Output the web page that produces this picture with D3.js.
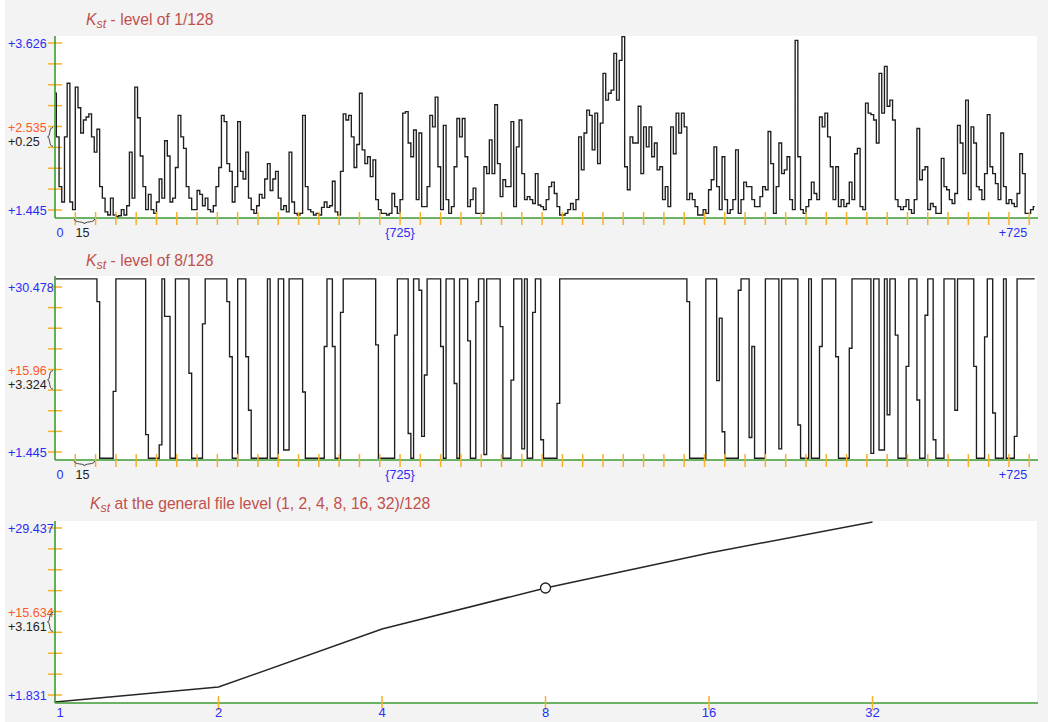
<!DOCTYPE html>
<html>
<head>
<meta charset="utf-8">
<script src="https://cdn.jsdelivr.net/npm/d3@7"></script>
<style>
  html, body { margin: 0; padding: 0; background: #f3f3f3; }
  svg { display: block; font-family: "Liberation Sans", Arial, sans-serif; }
</style>
</head>
<body>
<svg id="chart" width="1048" height="722"></svg>
<script>
// Kst at level 1/128, one value every 2 positions (0..724)
const kst1Values = [
  2.97,2.4,1.75,1.55,2.40,3.10,1.55,1.45,3.05,2.78,2.45,2.62,2.66,2.70,2.40,2.2,2.5,1.75,1.6,1.42,
  1.38,1.60,1.38,1.36,1.37,1.45,1.38,1.5,2.2,1.6,3.05,2.65,2.15,1.75,1.45,1.65,1.45,1.40,1.55,1.85,
  1.6,2.35,2.15,1.55,1.6,2.0,2.68,2.4,2.25,1.75,1.6,1.45,1.45,1.7,1.65,1.5,1.6,1.45,1.42,1.5,
  1.75,2.0,2.68,2.6,2.05,1.95,1.55,1.75,2.6,1.95,1.85,2.2,1.6,1.45,1.4,1.5,1.65,1.6,1.85,2.05,
  1.7,1.85,1.95,1.6,1.45,1.5,1.42,2.2,1.55,1.4,1.38,1.4,2.68,1.75,1.45,1.42,1.38,1.4,1.38,1.48,
  1.55,1.48,1.5,1.82,1.42,1.38,1.95,2.7,2.62,2.68,2.4,2.0,2.3,2.97,2.23,2.05,2.14,1.88,2.10,1.58,
  1.45,1.40,1.40,1.38,1.40,1.66,1.49,1.40,1.58,2.71,2.73,2.32,2.14,2.49,1.58,2.45,1.49,1.49,1.75,2.68,
  2.53,2.92,2.01,1.45,2.55,1.58,1.40,1.49,2.01,2.64,2.40,2.64,2.14,1.49,1.58,1.73,1.40,1.40,1.40,2.01,
  1.92,2.36,1.92,2.82,2.05,1.62,1.84,1.75,1.75,2.60,1.49,2.27,2.62,1.92,1.58,1.62,1.58,1.53,1.92,1.51,
  1.49,1.45,1.58,1.75,1.81,1.66,1.49,1.38,1.38,1.40,1.45,1.53,1.45,1.58,2.40,1.97,2.45,2.75,2.68,2.23,
  2.71,2.05,2.58,3.23,2.88,2.97,3.01,3.49,2.88,3.40,3.71,2.01,1.71,2.40,2.32,2.32,2.80,1.92,2.53,2.27,
  2.53,2.14,2.32,1.97,2.01,1.58,1.75,1.49,2.53,2.18,2.71,2.45,2.71,2.53,1.58,1.66,1.58,1.49,1.38,1.38,
  1.45,1.40,1.71,1.84,2.27,1.75,1.45,2.14,1.58,1.40,1.45,1.58,2.23,1.40,1.58,1.81,1.75,1.75,1.58,1.49,
  1.49,1.62,1.75,1.71,2.47,2.05,1.40,1.75,2.32,1.92,1.97,2.14,1.58,1.45,3.66,2.14,1.45,1.40,1.49,1.58,
  1.81,1.66,1.58,2.66,2.53,2.71,2.40,2.01,1.58,2.01,1.49,1.58,1.49,1.53,1.81,1.58,2.18,2.25,1.49,1.45,
  2.84,2.71,2.69,2.62,2.32,3.23,2.71,3.32,2.80,2.88,2.62,1.58,1.49,1.45,1.49,1.58,1.45,1.40,1.58,2.51,
  1.84,1.97,2.01,1.45,1.53,1.49,1.40,1.40,2.12,1.75,1.71,1.58,1.53,1.66,2.55,2.32,1.92,2.88,1.58,2.53,
  2.32,1.75,1.71,1.58,1.92,2.69,2.01,1.92,1.79,1.58,2.45,1.75,1.53,1.58,1.53,1.49,1.66,2.18,1.92,1.40,
  1.40,1.45,1.49
];

// Kst at level 8/128, one value every 2 positions (0..724)
const kst8Values = [
  31.9,31.9,31.9,31.9,31.9,31.9,31.9,31.9,31.9,31.9,31.9,31.9,31.9,31.9,31.9,31.9,27.9,0.35,0.35,0.35,
  0.35,0.35,12.1,31.9,31.9,31.9,31.9,31.9,31.9,31.9,31.9,31.9,31.9,31.9,4.5,0.35,0.35,0.35,0.35,2.7,
  31.9,25.3,25.3,0.35,0.35,31.9,31.9,31.9,31.9,31.9,15.3,0.35,0.35,0.35,0.35,24,31.9,31.9,31.9,31.9,
  31.9,31.9,31.9,31.9,27.9,18.2,0.35,0.35,31.9,31.9,31.9,18.2,8.8,0.35,0.35,0.35,0.35,0.35,0.35,31.9,
  0.35,0.35,0.35,31.9,31.9,1.8,1.8,31.9,31.9,31.9,31.9,31.9,12,0.35,0.35,0.35,0.35,0.35,0.35,0.35,
  20,31.9,31.9,20,0.35,0.35,26,31.9,31.9,31.9,31.9,31.9,31.9,31.9,31.9,31.9,31.9,31.9,31.9,20.3,
  0.35,0.35,0.35,0.35,0.35,0.35,22,31.9,31.9,31.9,31.9,4.7,0.35,31.9,31.9,29.9,4.2,15,31.9,31.9,
  31.9,31.9,31.9,20,0.35,31.9,31.9,31.9,13.5,0.35,31.9,31.9,31.9,21,0.35,0.35,27.9,31.9,31.9,1.0,
  31.9,31.9,31.9,31.9,31.9,23.5,0.35,0.35,0.35,14.1,31.9,31.9,31.9,2,31.9,0.35,0.35,26,31.9,31.9,
  3.6,0.35,0.35,0.35,0.35,0.35,10,31.9,31.9,31.9,31.9,31.9,31.9,31.9,31.9,31.9,31.9,31.9,31.9,31.9,
  31.9,31.9,31.9,31.9,31.9,31.9,31.9,31.9,31.9,31.9,31.9,31.9,31.9,31.9,31.9,31.9,31.9,31.9,31.9,31.9,
  31.9,31.9,31.9,31.9,31.9,31.9,31.9,31.9,31.9,31.9,31.9,31.9,31.9,31.9,27.9,0.35,0.35,0.35,0.35,0.35,
  0.35,31.9,31.9,31.9,31.9,14,25,5,0.35,0.35,0.35,0.35,0.35,29.9,31.9,31.9,31.9,4,20,0.35,
  0.35,0.35,0.35,31.9,31.9,31.9,31.9,31.9,2.0,31.9,31.9,31.9,31.9,31.9,31.9,6.2,0.35,0.35,0.35,31.9,
  0.35,0.35,0.35,20,31.9,31.9,31.9,31.9,31.9,18.2,0.35,0.35,0.35,0.35,19.7,31.9,31.9,31.9,31.9,31.9,
  31.9,31.9,1.2,31.9,31.9,1.8,1.8,31.9,8,31.9,31.9,22,0.35,0.35,0.35,16.5,31.9,31.9,31.9,10.6,
  0.35,0.35,25.5,31.9,31.9,3.6,0.35,0.35,0.35,31.9,31.9,31.9,31.9,8.8,31.9,31.9,31.9,31.9,31.9,31.9,
  16.5,0.35,0.35,0.35,21.7,31.9,31.9,8.3,0.35,0.35,0.35,31.9,0.35,0.35,0.35,4.2,31.9,31.9,31.9,31.9,
  31.9,31.9,31.9
];

const sampleStep = 2;
const positionCount = 725;

// Kst at the general file level
const levels = [1, 2, 4, 8, 16, 32];
const levelValues = [0.67, 3.15, 12.74, 19.52, 25.3, 30.43];
const markedLevel = 8;

// axis ranges and their labels: [max, mid, step, min]
const kst1Range = [1.445, 3.626];
const kst1YLabels = ["+3.626", "+2.535", "+0.25", "+1.445"];
const kst8Range = [1.445, 30.478];
const kst8YLabels = ["+30.478", "+15.96", "+3.324", "+1.445"];
const levelRange = [1.831, 29.437];
const levelYLabels = ["+29.437", "+15.634", "+3.161", "+1.831"];
const positionLabels = ["0", "15", "{725}", "+725"];
const positionTickStep = 15;

const titles = [
  " - level of 1/128",
  " - level of 8/128",
  " at the general file level (1, 2, 4, 8, 16, 32)/128"
];

const BLUE = "#2b2bf5", ORANGE = "#ff5a28", TICK = "#f7b02a", GREEN = "#3c9c32", TITLE = "#c0504d";
const LEFT = 55, RIGHT = 1037;

const svg = d3.select("#chart");
svg.append("rect").attr("width", 1048).attr("height", 722).attr("fill", "#f3f3f3");
svg.append("rect").attr("width", 5).attr("height", 722).attr("fill", "#fff");

function title(y, x, rest) {
  const t = svg.append("text").attr("x", x).attr("y", y).attr("fill", TITLE).attr("font-size", 15.7);
  t.append("tspan").attr("font-style", "italic").text("K");
  t.append("tspan").attr("font-style", "italic").attr("font-size", 12.5).attr("dy", 3).text("st");
  t.append("tspan").attr("dy", -3).text(rest);
}

function frame(p) {
  const g = svg.append("g");
  g.append("rect").attr("x", LEFT).attr("y", p.top).attr("width", RIGHT - LEFT)
    .attr("height", p.bottom - p.top).attr("fill", "#fff");
  const [lo, hi] = p.range;
  const ticks = d3.range(9).map(k => lo + k * (hi - lo) / 8);
  g.selectAll(".yt").data(ticks).join("line")
    .attr("x1", LEFT - 7).attr("x2", LEFT + 7)
    .attr("y1", d => p.y(d)).attr("y2", d => p.y(d))
    .attr("stroke", TICK).attr("stroke-width", 1.5);
  const mid = ticks[4];
  const lab = p.labels;
  const lt = [
    { t: lab[0], y: p.y(hi) + 5, c: BLUE },
    { t: lab[1], y: p.y(mid) + 5, c: ORANGE },
    { t: lab[2], y: p.y(mid) + 19, c: "#222" },
    { t: lab[3], y: p.y(lo) + 5, c: BLUE }
  ];
  g.selectAll(".yl").data(lt).join("text")
    .attr("x", 8).attr("y", d => d.y).attr("fill", d => d.c)
    .attr("font-size", 12.6).text(d => d.t);
  const a = p.y(mid) + 1, b = p.y(ticks[3]) - 1, m = (a + b) / 2;
  g.append("path")
    .attr("d", `M53,${a} C48.5,${a} 50.5,${m} 47.5,${m} C50.5,${m} 48.5,${b} 53,${b}`)
    .attr("fill", "none").attr("stroke", "#444").attr("stroke-width", 1);
  return g;
}

function greenAxes(g, p) {
  g.append("line").attr("x1", LEFT).attr("x2", LEFT).attr("y1", p.top).attr("y2", p.bottom)
    .attr("stroke", GREEN).attr("stroke-width", 1.6);
  g.append("line").attr("x1", LEFT).attr("x2", RIGHT + 1).attr("y1", p.bottom).attr("y2", p.bottom)
    .attr("stroke", GREEN).attr("stroke-width", 1.6);
}

const xPos = d3.scaleLinear().domain([0, positionCount]).range([LEFT, RIGHT - 1]);

function positionPanel(p, values) {
  const g = frame(p);
  const line = d3.line()
    .x((d, i) => xPos(i * sampleStep))
    .y(d => p.y(d))
    .curve(d3.curveStep);
  g.append("path").datum(values).attr("d", line)
    .attr("fill", "none").attr("stroke", "#1e1e1e").attr("stroke-width", 1.35);
  greenAxes(g, p);
  const xt = d3.range(positionTickStep, positionCount, positionTickStep);
  g.selectAll(".xt").data(xt).join("line")
    .attr("x1", d => xPos(d)).attr("x2", d => xPos(d))
    .attr("y1", p.bottom - 6).attr("y2", p.bottom + 7)
    .attr("stroke", TICK).attr("stroke-width", 1.5);
  const by = p.bottom;
  const x0 = xPos(positionTickStep) - 1, x1 = xPos(2 * positionTickStep) - 1, xm = (x0 + x1) / 2;
  g.append("path")
    .attr("d", `M${x0},${by + 1} C${x0},${by + 5} ${xm},${by + 3} ${xm},${by + 6} C${xm},${by + 3} ${x1},${by + 5} ${x1},${by + 1}`)
    .attr("fill", "none").attr("stroke", "#444").attr("stroke-width", 1);
  const xl = [
    { t: positionLabels[0], x: xPos(0) + 5, c: BLUE },
    { t: positionLabels[1], x: xm - 2, c: "#222" },
    { t: positionLabels[2], x: xPos(255), c: BLUE },
    { t: positionLabels[3], x: xPos(708), c: BLUE }
  ];
  g.selectAll(".xl").data(xl).join("text")
    .attr("x", d => d.x).attr("y", by + 19).attr("text-anchor", "middle")
    .attr("fill", d => d.c).attr("font-size", 12.6).text(d => d.t);
}

// level 1/128
const p1 = { top: 36, bottom: 218, range: kst1Range, labels: kst1YLabels };
p1.y = d3.scaleLinear().domain(kst1Range).range([210, 43]);
title(25, 86, titles[0]);
positionPanel(p1, kst1Values);

// level 8/128
const p2 = { top: 276, bottom: 460, range: kst8Range, labels: kst8YLabels };
p2.y = d3.scaleLinear().domain(kst8Range).range([452, 287]);
title(266, 86, titles[1]);
positionPanel(p2, kst8Values);

// general file level
const p3 = { top: 521, bottom: 703, range: levelRange, labels: levelYLabels };
p3.y = d3.scaleLinear().domain(levelRange).range([695, 528]);
title(509, 90, titles[2]);
const g3 = frame(p3);
const xLev = d3.scaleLog().base(2).domain([1, 64]).range([LEFT, RIGHT - 1]);
g3.append("path").datum(levels.map((l, i) => [l, levelValues[i]]))
  .attr("d", d3.line().x(d => xLev(d[0])).y(d => p3.y(d[1])))
  .attr("fill", "none").attr("stroke", "#262626").attr("stroke-width", 1.5);
greenAxes(g3, p3);
g3.selectAll(".lt").data(levels.slice(1)).join("line")
  .attr("x1", d => xLev(d)).attr("x2", d => xLev(d))
  .attr("y1", p3.bottom - 7).attr("y2", p3.bottom + 7)
  .attr("stroke", TICK).attr("stroke-width", 1.5);
g3.selectAll(".ll").data(levels).join("text")
  .attr("x", d => xLev(d) + (d === 1 ? 5 : 0)).attr("y", 717)
  .attr("text-anchor", "middle").attr("fill", BLUE).attr("font-size", 13)
  .text(d => String(d));
const mi = levels.indexOf(markedLevel);
g3.append("circle").attr("cx", xLev(markedLevel)).attr("cy", p3.y(levelValues[mi]))
  .attr("r", 5).attr("fill", "#fff").attr("stroke", "#222").attr("stroke-width", 1.3);
</script>
</body>
</html>
